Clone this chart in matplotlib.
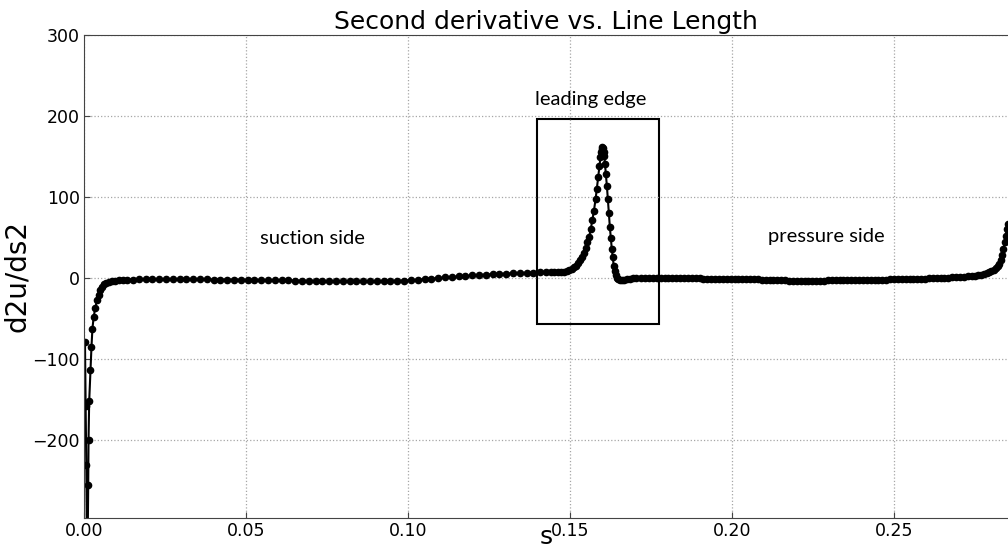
import numpy as np
import matplotlib
matplotlib.use("Agg")
import matplotlib.pyplot as plt
from matplotlib.patches import Rectangle

# suction side (including the steep start near s=0)
s_suction = [0.0003, 0.0005, 0.0007, 0.0010, 0.0013, 0.0014, 0.0016, 0.0020, 0.0023, 0.0026,
             0.0030, 0.0035, 0.0040, 0.0045, 0.0050, 0.0056, 0.0062, 0.0069, 0.0077, 0.0086,
             0.0096, 0.0107, 0.0119,
             0.0132, 0.0150, 0.0170, 0.0190, 0.0211, 0.0232, 0.0253, 0.0274, 0.0295, 0.0316,
             0.0337, 0.0358, 0.0379, 0.0400, 0.0421, 0.0442, 0.0463, 0.0484, 0.0505, 0.0526,
             0.0547, 0.0568, 0.0589, 0.0610, 0.0631, 0.0652, 0.0673, 0.0694, 0.0715, 0.0736,
             0.0757, 0.0778, 0.0799, 0.0820, 0.0841, 0.0862, 0.0883, 0.0904, 0.0925, 0.0946,
             0.0967, 0.0988, 0.1009, 0.1030, 0.1051, 0.1072, 0.1093, 0.1114, 0.1135, 0.1156,
             0.1177, 0.1198, 0.1219, 0.1240, 0.1261, 0.1282, 0.1303, 0.1324, 0.1345, 0.1366,
             0.1387, 0.1408]
d2u_suction = [-80, -159, -231, -380, -256, -200, -153, -114, -86, -63,
               -48, -37, -28, -21, -15, -11, -8, -6, -5, -4,
               -3.5, -3, -2.6,
               -2.4, -2.3, -2.2, -2.2, -2.1, -2.1, -2.1, -2.1, -2.1, -2.1,
               -2.1, -2.2, -2.2, -2.3, -2.3, -2.4, -2.4, -2.5, -2.6, -2.7,
               -2.8, -2.9, -3.0, -3.2, -3.3, -3.5, -3.6, -3.8, -3.9, -4.0,
               -4.1, -4.2, -4.3, -4.3, -4.3, -4.3, -4.2, -4.1, -3.9, -3.7,
               -3.7, -3.5, -3.0, -2.4, -1.8, -1.1, -0.4, 0.3, 1.0, 1.6,
               2.2, 2.8, 3.3, 3.8, 4.3, 4.7, 5.1, 5.5, 5.8, 6.1,
               6.3, 6.5]

# leading edge
s_le = [0.1425, 0.1440, 0.1452, 0.1463, 0.1473, 0.1482, 0.1490, 0.1498, 0.1505, 0.1512,
        0.1518, 0.1524, 0.1530, 0.1536, 0.1542, 0.1548, 0.1554, 0.1559, 0.1564, 0.1569,
        0.1574, 0.1579, 0.1583, 0.1587, 0.1591, 0.1594, 0.1596, 0.1598, 0.1600, 0.1602,
        0.1604, 0.1606, 0.1608, 0.1611, 0.1614, 0.1617, 0.1620, 0.1623, 0.1626, 0.1629,
        0.1632, 0.1635, 0.1638, 0.1641, 0.1645, 0.1649, 0.1654, 0.1660, 0.1667, 0.1675,
        0.1684, 0.1694, 0.1705]
d2u_le = [6.6, 6.5, 6.5, 6.6, 6.9, 7.4, 8.2, 9.3, 10.8, 12.7,
          15, 18, 21.5, 26, 31, 37, 44, 50, 60, 71,
          83, 97, 110, 124, 138, 149, 155, 159, 161, 160,
          156, 150, 141, 128, 113, 97, 80, 63, 49, 36,
          25, 15, 8, 3, 0, -2, -3, -3.2, -2.8, -2.1,
          -1.4, -0.9, -0.6]

# pressure side
s_pressure = [0.1720, 0.1732, 0.1744, 0.1756, 0.1768, 0.1780, 0.1792, 0.1804, 0.1816, 0.1828,
              0.1840, 0.1852, 0.1864, 0.1876, 0.1888, 0.1900, 0.1912, 0.1924, 0.1936, 0.1948,
              0.1960, 0.1972, 0.1984, 0.1996, 0.2008, 0.2020, 0.2032, 0.2044, 0.2056, 0.2068,
              0.2080, 0.2092, 0.2104, 0.2116, 0.2128, 0.2140, 0.2152, 0.2164, 0.2176, 0.2188,
              0.2200, 0.2212, 0.2224, 0.2236, 0.2248, 0.2260, 0.2272, 0.2284, 0.2296, 0.2308,
              0.2320, 0.2332, 0.2344, 0.2356, 0.2368, 0.2380, 0.2392, 0.2404, 0.2416, 0.2428,
              0.2440, 0.2452, 0.2464, 0.2476, 0.2488, 0.2500, 0.2512, 0.2524, 0.2536, 0.2548,
              0.2560, 0.2572, 0.2584, 0.2596, 0.2608, 0.2620, 0.2632, 0.2644, 0.2656, 0.2668,
              0.2680, 0.2692, 0.2704, 0.2716, 0.2728, 0.2740, 0.2750, 0.2760, 0.2769, 0.2778,
              0.2786, 0.2794, 0.2801, 0.2808, 0.2814, 0.2820, 0.2825, 0.2830, 0.2834, 0.2838,
              0.2842, 0.2845, 0.2848, 0.2851]
d2u_pressure = [-0.5, -0.5, -0.5, -0.5, -0.5, -0.6, -0.6, -0.6, -0.7, -0.7,
                -0.7, -0.8, -0.8, -0.8, -0.9, -0.9, -1.0, -1.0, -1.0, -1.1,
                -1.1, -1.2, -1.2, -1.3, -1.4, -1.5, -1.6, -1.7, -1.8, -2.0,
                -2.1, -2.3, -2.5, -2.7, -2.9, -3.1, -3.3, -3.4, -3.5, -3.6,
                -3.7, -3.7, -3.7, -3.7, -3.6, -3.6, -3.5, -3.5, -3.4, -3.4,
                -3.3, -3.3, -3.2, -3.2, -3.1, -3.0, -3.0, -2.9, -2.8, -2.7,
                -2.6, -2.5, -2.4, -2.3, -2.2, -2.1, -2.0, -1.9, -1.8, -1.6,
                -1.5, -1.4, -1.2, -1.1, -0.9, -0.7, -0.5, -0.3, -0.1, 0.2,
                0.5, 0.8, 1.1, 1.4, 1.8, 2.2, 2.5, 3.0, 3.6, 4.3,
                6.0, 7.0, 8.3, 10.0, 12.0, 14.5, 17.5, 22, 28, 35,
                44, 52, 60, 66]

xticks = [0.00, 0.05, 0.10, 0.15, 0.20, 0.25]
yticks = [-200, -100, 0, 100, 200, 300]

s = np.array(s_suction + s_le + s_pressure)
d2u = np.array(d2u_suction + d2u_le + d2u_pressure)

fig = plt.figure(figsize=(10.08, 5.53), dpi=100)
ax = fig.add_axes([84 / 1008, 1 - 518 / 553, 1 - 84 / 1008, (518 - 35) / 553])

ax.plot(s, d2u, color='black', lw=1.5, marker='o', ms=4.5)

ax.add_patch(Rectangle((0.1399, -57), 0.0377, 253, fill=False, edgecolor='black', lw=1.5))

ax.text(0.0704, 48, 'suction side', family='Lato', fontsize=14.5, ha='center', va='center')
ax.text(0.1565, 220, 'leading edge', family='Lato', fontsize=14.5, ha='center', va='center')
ax.text(0.2290, 51, 'pressure side', family='Lato', fontsize=14.5, ha='center', va='center')

ax.set_xlim(0, 0.2852)
ax.set_ylim(-297, 300)
ax.set_xticks(xticks)
ax.set_xticklabels(['%.2f' % t for t in xticks])
ax.set_yticks(yticks)
ax.set_yticklabels(['\u2212%d' % -t if t < 0 else '%d' % t for t in yticks])
ax.tick_params(direction='in', length=4, labelsize=12.5, color='#444444', pad=3)
ax.grid(True, color='0.65', linestyle=':', lw=0.9)
for side in ['left', 'bottom', 'top']:
    ax.spines[side].set_color('#444444')
ax.spines['right'].set_visible(False)

ax.set_title('Second derivative vs. Line Length', fontsize=18, pad=4)
ax.set_xlabel('s', fontsize=18, labelpad=-11)
ax.set_ylabel('d2u/ds2', fontsize=20, labelpad=1)

plt.savefig('out.png', dpi=100)
